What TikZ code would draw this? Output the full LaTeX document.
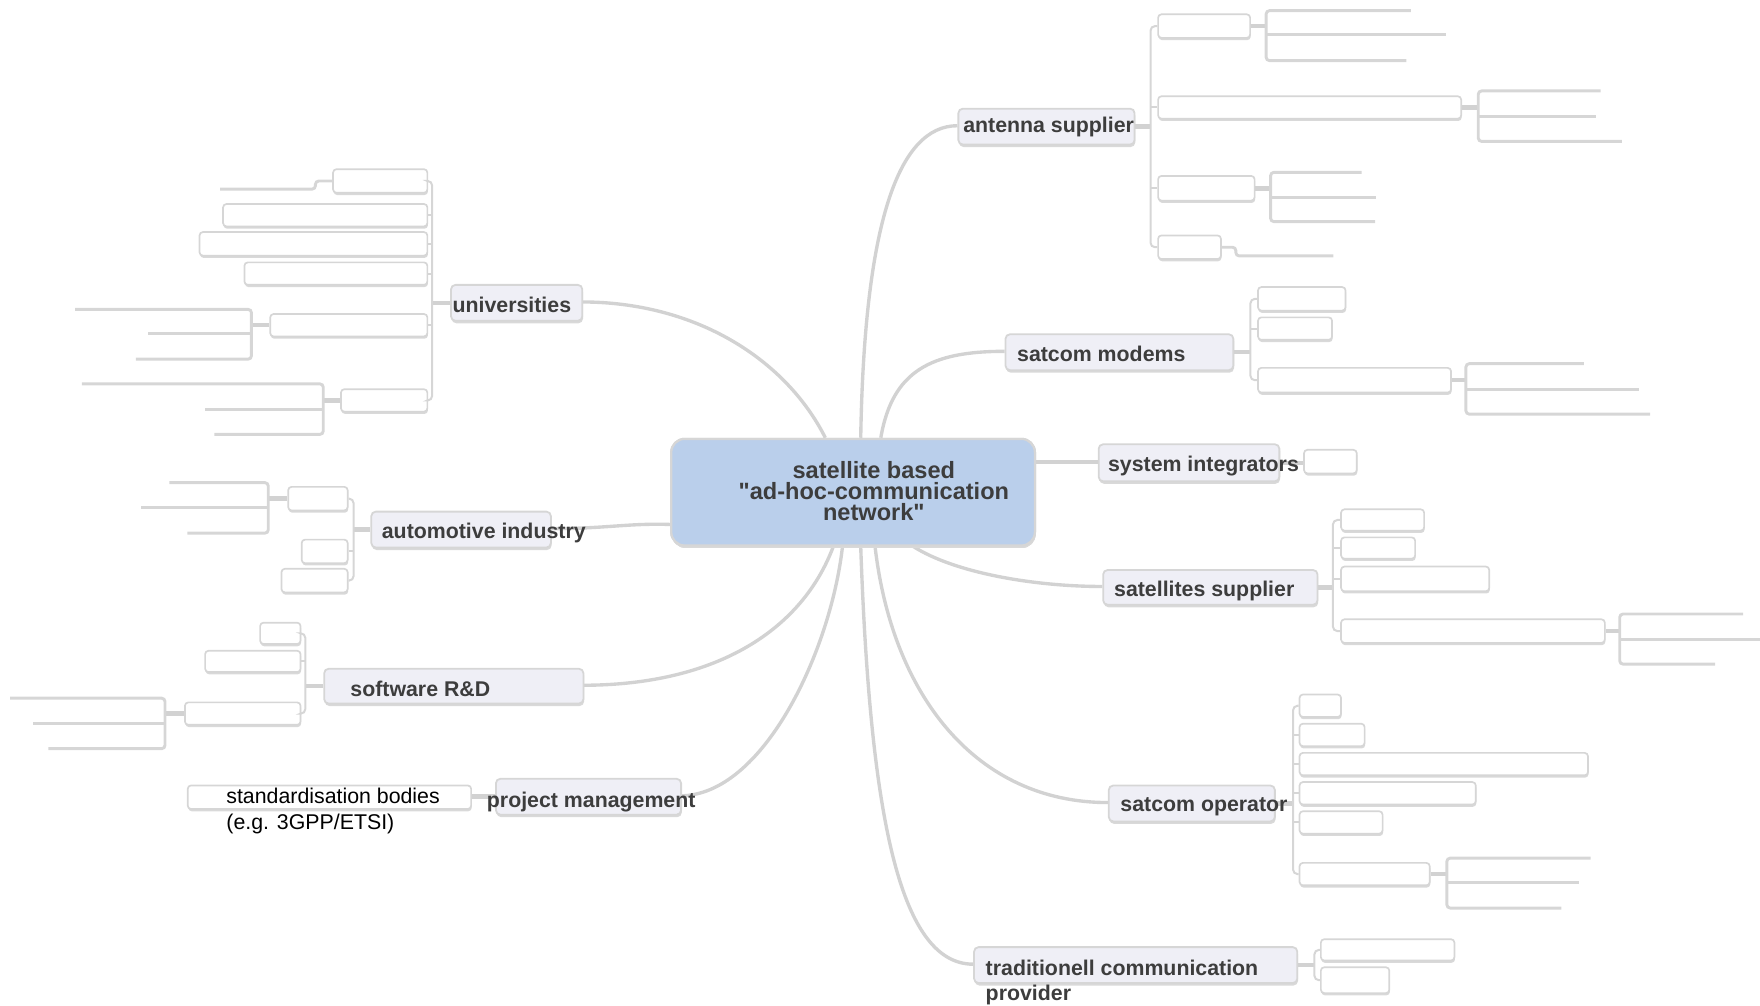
\documentclass[tikz,border=0pt]{standalone}
\usepackage{fontspec}
\setmainfont{Liberation Sans}[Ligatures=TeXOff]
\usetikzlibrary{shadows}
\definecolor{lineC}{HTML}{D2D2D2}
\definecolor{boxC}{HTML}{D6D6D6}
\definecolor{topicF}{HTML}{EFEFF6}
\definecolor{rootF}{HTML}{BACFEB}
\definecolor{txtC}{HTML}{3D3D3D}
\definecolor{shadC}{HTML}{D9D9D9}
\newcommand\mybox[6]{%
  \pgfmathsetmacro\bw{#5-#3}\pgfmathsetmacro\bh{#6-#4}%
  \node[#1, minimum width=\bw pt, minimum height=\bh pt, anchor=north west] (#2) at (#3,#4) {};}
\begin{document}
\begin{tikzpicture}[x=1pt,y=-1pt,
  rootbox/.style={draw=boxC, fill=rootF, line width=2pt, rounded corners=12pt, inner sep=0pt,
     drop shadow={shadow xshift=0.6pt, shadow yshift=-2.2pt, fill=shadC, opacity=1}},
  topic/.style={draw=boxC, fill=topicF, line width=1.6pt, rounded corners=4pt, inner sep=0pt,
     drop shadow={shadow xshift=0.6pt, shadow yshift=-2.2pt, fill=shadC, opacity=1}},
  cbox/.style={draw=boxC, fill=white, line width=1.5pt, rounded corners=3pt, inner sep=0pt,
     drop shadow={shadow xshift=0.5pt, shadow yshift=-2pt, fill=shadC, opacity=1}},
  conn/.style={draw=lineC, line width=3pt},
  stub/.style={draw=lineC, line width=4pt},
  brk/.style={draw=boxC, line width=1.8pt, rounded corners=4pt},
  leaf/.style={draw=boxC, line width=2.6pt, rounded corners=3pt},
  ttext/.style={inner sep=0pt, text=txtC, font={\fontsize{19}{23}\selectfont\bfseries}},
  roottxt/.style={inner sep=0pt, text=txtC, align=center, font={\fontsize{21}{18.7}\selectfont\bfseries}},
  ntext/.style={inner sep=0pt, text=black, align=left, font={\fontsize{19}{23}\selectfont}}
]
\useasboundingbox (0,0) rectangle (1568,896);

\mybox{rootbox}{root}{597}{390}{921}{485}

% main connectors
\draw[conn] (root.82) .. controls (770,200) and (800,112) .. (853,112) coordinate (antW);
\draw[conn] (root.63) .. controls (795,330) and (830,313) .. (895,313) coordinate (modW);
\draw[conn] (root.east |- 0,411.5) -- (978,411.5) coordinate (sysW);
\draw[conn] (root.318) .. controls (850,510) and (920,522.5) .. (982,522.5) coordinate (satW);
\draw[conn] (root.292) .. controls (795,620) and (870,715) .. (987,715) coordinate (opW);
\draw[conn] (root.278) .. controls (775,720) and (800,859) .. (867,859) coordinate (tradW);
\draw[conn] (root.117) .. controls (700,320) and (620,269) .. (518,269) coordinate (uniE);
\draw[conn] (root.190) .. controls (560,466) and (540,471) .. (490,471) coordinate (autoE);
\draw[conn] (root.250) .. controls (715,560) and (640,610.5) .. (519,610.5) coordinate (softE);
\draw[conn] (root.259) .. controls (740,580) and (680,709) .. (606,709) coordinate (pmE);

% redraw root on top of connectors
\mybox{rootbox}{root}{597}{390}{921}{485}

% topic boxes
\mybox{topic}{ant}{853}{96}{1010}{128}
\mybox{topic}{mod}{895}{297}{1098}{329}
\mybox{topic}{sys}{978}{395}{1139}{428}
\mybox{topic}{sat}{982}{507}{1173}{538}
\mybox{topic}{op}{987}{699}{1135}{731}
\mybox{topic}{trad}{867}{843}{1155}{875}
\mybox{topic}{uni}{401}{253}{518}{285}
\mybox{topic}{auto}{330}{455}{490}{487}
\mybox{topic}{soft}{288}{595}{519}{626}
\mybox{topic}{pm}{441}{693}{606}{725}

% ---------- antenna supplier group
\draw[stub] (ant.east) -- (1025,0 |- ant.east);
\mybox{cbox}{A1}{1031}{12}{1113}{33}
\mybox{cbox}{A2}{1031}{85}{1301}{105}
\mybox{cbox}{A3}{1031}{156}{1117}{178}
\mybox{cbox}{A4}{1031}{209}{1087}{230}
\draw[brk] (A1.west) -- (1025,0 |- A1.west) -- (1025,0 |- A4.west) -- (A4.west);
\foreach \n in {A2,A3} \draw[brk] (\n.west) -- (1025,0 |- \n.west);
\draw[stub] (A1.east) -- (1128,0 |- A1.east);
\draw[leaf] (1257,9.5) -- (1128,9.5) -- (1128,54) -- (1253,54);
\draw[leaf] (1128,31) -- (1288,31);
\draw[stub] (A2.east) -- (1317,0 |- A2.east);
\draw[leaf] (1426,81) -- (1317,81) -- (1317,126) -- (1445,126);
\draw[leaf] (1317,104) -- (1422,104);
\draw[stub] (A3.east) -- (1132,0 |- A3.east);
\draw[leaf] (1213,153.5) -- (1132,153.5) -- (1132,197.5) -- (1225,197.5);
\draw[leaf] (1132,176) -- (1226,176);
\draw[leaf] (A4.east) -- (1101,0 |- A4.east) -- (1101,228) -- (1188,228);

% ---------- satcom modems group
\draw[stub] (mod.east) -- (1114,0 |- mod.east);
\mybox{cbox}{M1}{1120}{255}{1198}{276}
\mybox{cbox}{M2}{1120}{282}{1186}{302}
\mybox{cbox}{M3}{1120}{327}{1292}{349}
\draw[brk] (M1.west) -- (1114,0 |- M1.west) -- (1114,0 |- M3.west) -- (M3.west);
\draw[brk] (M2.west) -- (1114,0 |- M2.west);
\draw[stub] (M3.east) -- (1306,0 |- M3.east);
\draw[leaf] (1411,324) -- (1306,324) -- (1306,369) -- (1470,369);
\draw[leaf] (1306,346.6) -- (1460,346.6);

% ---------- system integrators
\mybox{cbox}{SI1}{1161}{400}{1208}{421}
\draw[stub] (sys.east) -- (sys.east -| SI1.west);

% ---------- satellites supplier group
\draw[stub] (sat.east) -- (1187.5,0 |- sat.east);
\mybox{cbox}{S1}{1194}{453}{1268}{472}
\mybox{cbox}{S2}{1194}{478}{1260}{497}
\mybox{cbox}{S3}{1194}{504}{1326}{526}
\mybox{cbox}{S4}{1194}{551}{1429}{572}
\draw[brk] (S1.west) -- (1187.5,0 |- S1.west) -- (1187.5,0 |- S4.west) -- (S4.west);
\foreach \n in {S2,S3} \draw[brk] (\n.west) -- (1187.5,0 |- \n.west);
\draw[stub] (S4.east) -- (1443,0 |- S4.east);
\draw[leaf] (1553,547) -- (1443,547) -- (1443,591.7) -- (1528,591.7);
\draw[leaf] (1443,569.5) -- (1568,569.5);

% ---------- satcom operator group
\draw[stub] (op.east) -- (1152,0 |- op.east);
\mybox{cbox}{O1}{1157}{618}{1194}{638}
\mybox{cbox}{O2}{1157}{644}{1215}{664}
\mybox{cbox}{O3}{1157}{670}{1414}{690}
\mybox{cbox}{O4}{1157}{696}{1314}{716}
\mybox{cbox}{O5}{1157}{722}{1231}{742}
\mybox{cbox}{O6}{1157}{768}{1273}{788}
\draw[brk] (O1.west) -- (1152,0 |- O1.west) -- (1152,0 |- O6.west) -- (O6.west);
\foreach \n in {O2,O3,O4,O5} \draw[brk] (\n.west) -- (1152,0 |- \n.west);
\draw[stub] (O6.east) -- (1289,0 |- O6.east);
\draw[leaf] (1417,764.5) -- (1289,764.5) -- (1289,809) -- (1391,809);
\draw[leaf] (1289,786.5) -- (1407,786.5);

% ---------- traditionell communication provider group
\draw[stub] (trad.east) -- (1171,0 |- trad.east);
\mybox{cbox}{T1}{1176}{836}{1295}{855}
\mybox{cbox}{T2}{1176}{861}{1237}{884}
\draw[brk] (T1.west) -- (1171,0 |- T1.west) -- (1171,0 |- T2.west) -- (T2.west);

% ---------- universities group
\draw[stub] (uni.west) -- (385,0 |- uni.west);
\mybox{cbox}{U1}{296}{150}{380}{171}
\mybox{cbox}{U2}{198}{181}{380}{201}
\mybox{cbox}{U3}{177}{206}{380}{227}
\mybox{cbox}{U4}{217}{233}{380}{253}
\mybox{cbox}{U5}{240}{279}{380}{299}
\mybox{cbox}{U6}{303}{346}{380}{366}
\draw[brk] (U1.east) -- (385,0 |- U1.east) -- (385,0 |- U6.east) -- (U6.east);
\foreach \n in {U2,U3,U4,U5} \draw[brk] (\n.east) -- (385,0 |- \n.east);
\draw[leaf] (U1.west) -- (281,0 |- U1.west) -- (281,168.5) -- (196,168.5);
\draw[stub] (U5.west) -- (224,0 |- U5.west);
\draw[leaf] (67,275.6) -- (224,275.6) -- (224,320) -- (121,320);
\draw[leaf] (224,297) -- (132,297);
\draw[stub] (U6.west) -- (288,0 |- U6.west);
\draw[leaf] (73,342) -- (288,342) -- (288,387) -- (191,387);
\draw[leaf] (288,364.5) -- (183,364.5);

% ---------- automotive industry group
\draw[stub] (auto.west) -- (315,0 |- auto.west);
\mybox{cbox}{C1}{256}{433}{309}{454}
\mybox{cbox}{C2}{268}{480}{309}{501}
\mybox{cbox}{C3}{250}{506}{309}{527}
\draw[brk] (C1.east) -- (315,0 |- C1.east) -- (315,0 |- C3.east) -- (C3.east);
\draw[brk] (C2.east) -- (315,0 |- C2.east);
\draw[stub] (C1.west) -- (239,0 |- C1.west);
\draw[leaf] (151,430) -- (239,430) -- (239,475) -- (167,475);
\draw[leaf] (239,452) -- (126,452);

% ---------- software R&D group
\draw[stub] (soft.west) -- (272,0 |- soft.west);
\mybox{cbox}{D1}{231}{554}{267}{573}
\mybox{cbox}{D2}{182}{579}{267}{598}
\mybox{cbox}{D3}{164}{625}{267}{645}
\draw[brk] (D1.east) -- (272,0 |- D1.east) -- (272,0 |- D3.east) -- (D3.east);
\draw[brk] (D2.east) -- (272,0 |- D2.east);
\draw[stub] (D3.west) -- (147,0 |- D3.west);
\draw[leaf] (9,622) -- (147,622) -- (147,667) -- (43,667);
\draw[leaf] (147,644.5) -- (29.5,644.5);

% ---------- project management group
\mybox{cbox}{PM1}{166.5}{699}{419}{720}
\draw[stub] (pm.west) -- (pm.west -| PM1.east);

% ---------- texts
\node[roottxt, anchor=north] (rootT) at (778.5,410.5) {satellite based\\"ad-hoc-communication\\network"};
\node[ttext, anchor=base west] (antT) at (858,118) {antenna supplier};
\node[ttext, anchor=base west] (modT) at (906,322) {satcom modems};
\node[ttext, anchor=base west] (sysT) at (987,420) {system integrators};
\node[ttext, anchor=base west] (satT) at (992.4,531.6) {satellites supplier};
\node[ttext, anchor=base west] (opT) at (998,723) {satcom operator};
\node[ttext, anchor=north west, align=left] (tradT) at (878,854.8) {traditionell communication\\provider};
\node[ttext, anchor=base west] (uniT) at (403,278) {universities};
\node[ttext, anchor=base west] (autoT) at (340,479.6) {automotive industry};
\node[ttext, anchor=base west] (softT) at (312,620.7) {software R\&D};
\node[ttext, anchor=base west] (pmT) at (433.6,719) {project management};
\node[ntext, anchor=north west] (stdT) at (201.5,702) {standardisation bodies\\(e.g. 3GPP/ETSI)};
\end{tikzpicture}
\end{document}
